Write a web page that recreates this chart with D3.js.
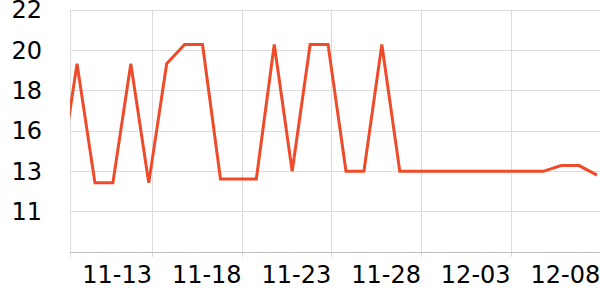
<!DOCTYPE html>
<html>
<head>
<meta charset="utf-8">
<script src="https://cdn.jsdelivr.net/npm/d3@7"></script>
<style>
  html, body { margin: 0; padding: 0; background: #fff; }
  svg { display: block; }
  text { font-family: "DejaVu Sans", sans-serif; }
</style>
</head>
<body>
<svg id="chart" width="600" height="300"></svg>
<script>
// ---- data ----
const dates = [
  "2023-11-07T19:40", "2023-11-08T19:40", "2023-11-09T19:40", "2023-11-10T19:40",
  "2023-11-11T19:40", "2023-11-12T19:40", "2023-11-13T19:40", "2023-11-14T19:40",
  "2023-11-15T19:40", "2023-11-16T19:40", "2023-11-17T19:40", "2023-11-18T19:40",
  "2023-11-19T19:40", "2023-11-20T19:40", "2023-11-21T19:40", "2023-11-22T19:40",
  "2023-11-23T19:40", "2023-11-24T19:40", "2023-11-25T19:40", "2023-11-26T19:40",
  "2023-11-27T19:40", "2023-11-28T19:40", "2023-11-29T19:40", "2023-11-30T19:40",
  "2023-12-01T19:40", "2023-12-02T19:40", "2023-12-03T19:40", "2023-12-04T19:40",
  "2023-12-05T19:40", "2023-12-06T19:40", "2023-12-07T19:40"
];
const values = [
  12.8, 19.0, 12.8, 12.8, 19.0, 12.8, 19.0, 20.0,
  20.0, 13.0, 13.0, 13.0, 20.0, 13.4, 20.0, 20.0,
  13.4, 13.4, 20.0, 13.4, 13.4, 13.4, 13.4, 13.4,
  13.4, 13.4, 13.4, 13.4, 13.7, 13.7, 13.2
];
const xDomain = ["2023-11-08T10:16", "2023-12-07T23:40"];
const xTickLabels = ["11-13", "11-18", "11-23", "11-28", "12-03", "12-08"];
const xTickYear = 2023;
const yDomain = [9.2, 21.8];
const yTicks = [9.2, 11.3, 13.4, 15.5, 17.6, 19.7, 21.8];
const yTickLabels = ["", "11", "13", "16", "18", "20", "22"];

// ---- layout ----
const W = 600, H = 300;
const m = { left: 70, right: 0, top: 10, bottom: 48 };
const parse = d3.timeParse("%Y-%m-%dT%H:%M");
const parseTick = d3.timeParse("%Y-%m-%d");

const data = dates.map((d, i) => ({ date: parse(d), value: values[i] }));
const xTicks = xTickLabels.map(l => parseTick(xTickYear + "-" + l));

const x = d3.scaleTime()
  .domain(xDomain.map(parse))
  .range([m.left, W - m.right]);
const y = d3.scaleLinear()
  .domain(yDomain)
  .range([H - m.bottom, m.top]);

const svg = d3.select("#chart");

svg.append("defs").append("clipPath").attr("id", "plotclip")
  .append("rect")
  .attr("x", m.left).attr("y", 0)
  .attr("width", W - m.left - m.right).attr("height", H - m.bottom + 4);

// horizontal grid
svg.append("g").selectAll("line")
  .data(yTicks.slice(1))
  .join("line")
  .attr("x1", m.left).attr("x2", W - m.right)
  .attr("y1", d => y(d)).attr("y2", d => y(d))
  .attr("stroke", "#dcdcdc").attr("stroke-width", 1)
  .attr("shape-rendering", "crispEdges");

// vertical grid (incl. left edge)
const vLines = [x.domain()[0]].concat(xTicks);
svg.append("g").selectAll("line")
  .data(vLines)
  .join("line")
  .attr("x1", d => Math.round(x(d))).attr("x2", d => Math.round(x(d)))
  .attr("y1", y(yDomain[1])).attr("y2", y(yDomain[0]) + 5)
  .attr("stroke", "#dcdcdc").attr("stroke-width", 1)
  .attr("shape-rendering", "crispEdges");

// x axis baseline
svg.append("line")
  .attr("x1", m.left).attr("x2", W - m.right)
  .attr("y1", y(yDomain[0])).attr("y2", y(yDomain[0]))
  .attr("stroke", "#bdbdbd").attr("stroke-width", 1)
  .attr("shape-rendering", "crispEdges");

// y labels
svg.append("g").selectAll("text")
  .data(yTicks)
  .join("text")
  .attr("x", 42)
  .attr("y", d => y(d))
  .attr("dy", "0.35em")
  .attr("text-anchor", "end")
  .attr("font-size", 24)
  .attr("fill", "#000")
  .text((d, i) => yTickLabels[i]);

// x labels
svg.append("g").selectAll("text")
  .data(xTicks)
  .join("text")
  .attr("x", d => x(d))
  .attr("y", y(yDomain[0]) + 31)
  .attr("text-anchor", "end")
  .attr("font-size", 24)
  .attr("fill", "#000")
  .text((d, i) => xTickLabels[i]);

// line
const line = d3.line().x(d => x(d.date)).y(d => y(d.value));
svg.append("path")
  .datum(data)
  .attr("clip-path", "url(#plotclip)")
  .attr("fill", "none")
  .attr("stroke", "#ee4b2b")
  .attr("stroke-width", 3)
  .attr("stroke-linejoin", "miter")
  .attr("d", line);
</script>
</body>
</html>
